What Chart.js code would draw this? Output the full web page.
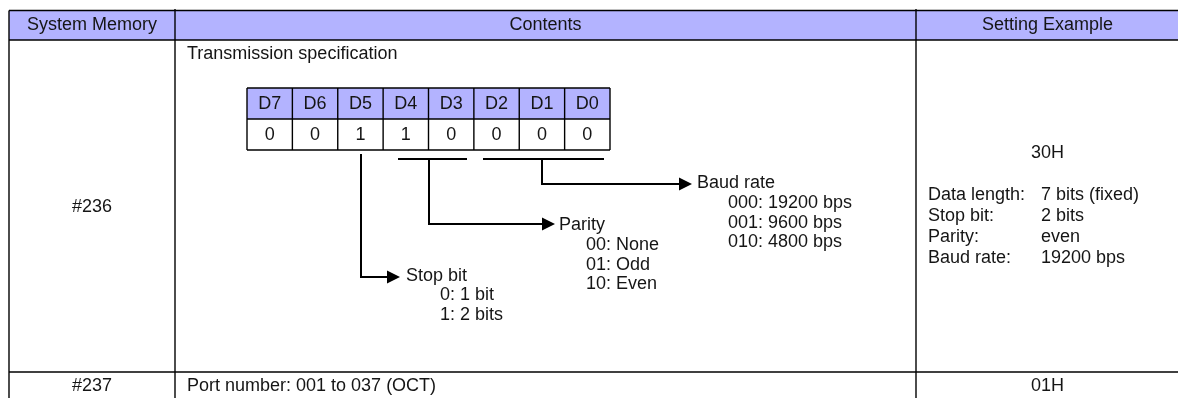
<!DOCTYPE html>
<html>
<head>
<meta charset="utf-8">
<script src="https://cdn.jsdelivr.net/npm/chart.js@4/dist/chart.umd.min.js"></script>
<style>
html,body{margin:0;padding:0;background:#fff;}
#wrap{width:1178px;height:398px;position:relative;}
</style>
</head>
<body>
<div id="wrap"><canvas id="c"></canvas></div>
<script>
// ---------- data ----------
const columnHeaders = ["System Memory", "Contents", "Setting Example"];
const memoryAddresses = ["#236", "#237"];
const specTitle = "Transmission specification";
const bitNames = ["D7", "D6", "D5", "D4", "D3", "D2", "D1", "D0"];
const bitValues = [0, 0, 1, 1, 0, 0, 0, 0];
const fieldNames = ["Stop bit", "Parity", "Baud rate"];
const stopBitOptions = ["0: 1 bit", "1: 2 bits"];
const parityOptions = ["00: None", "01: Odd", "10: Even"];
const baudOptions = ["000: 19200 bps", "001: 9600 bps", "010: 4800 bps"];
const exampleValues = ["30H", "01H"];
const exampleLabels = ["Data length:", "Stop bit:", "Parity:", "Baud rate:"];
const exampleSettings = ["7 bits (fixed)", "2 bits", "even", "19200 bps"];
const portDescription = "Port number: 001 to 037 (OCT)";

// ---------- layout (positions in scale units) ----------
const L = {
  tableLeft: 9, col1: 175, col2: 916, tableRight: 1178,
  top: 10.5, headerBottom: 40, rowDivider: 372, bottom: 398,
  headerY: 25,
  colCenters: [92, 545.5, 1047.5],
  specX: 187, specY: 54,
  bitLeft: 247, bitRight: 610, bitTop: 88, bitMid: 119, bitBottom: 150,
  underY: 159,
  underSegs: [[398, 467], [483, 604]],
  stop: {vx: 361, vTop: 154, hy: 277, tip: 400, textX: 406, textY: 276, optX: 440, optY: 295},
  parity: {vx: 429, vTop: 159, hy: 224, tip: 555, textX: 559, textY: 225, optX: 586, optY: 245},
  baud: {vx: 542, vTop: 159, hy: 184, tip: 692, textX: 697, textY: 183, optX: 728, optY: 203},
  optStep: 19.6,
  row1Y: 207,
  exVal1Y: 153,
  exLabelX: 928, exValueX: 1041, exY: 195, exStep: 21,
  row2Y: 386
};
const FONT = '18px "Liberation Sans", Arial, sans-serif';
const HEADER_FILL = '#b3b3ff';
const TEXT = '#151515';

const tablePlugin = {
  id: 'tablePlugin',
  afterDraw(chart) {
    const ctx = chart.ctx;
    const xs = chart.scales.x, ys = chart.scales.y;
    const X = v => xs.getPixelForValue(v);
    const Y = v => ys.getPixelForValue(v);
    ctx.save();
    // header background
    ctx.fillStyle = HEADER_FILL;
    ctx.fillRect(X(L.tableLeft), Y(L.top), X(L.tableRight) - X(L.tableLeft), Y(L.headerBottom) - Y(L.top));
    // bit table header fill
    ctx.fillRect(X(L.bitLeft), Y(L.bitTop), X(L.bitRight) - X(L.bitLeft), Y(L.bitMid) - Y(L.bitTop));

    // table lines
    ctx.strokeStyle = '#000';
    ctx.lineWidth = 1.4;
    const line = (x1, y1, x2, y2) => { ctx.beginPath(); ctx.moveTo(X(x1), Y(y1)); ctx.lineTo(X(x2), Y(y2)); ctx.stroke(); };
    line(L.tableLeft, L.top, L.tableRight, L.top);
    line(L.tableLeft, L.headerBottom, L.tableRight, L.headerBottom);
    line(L.tableLeft, L.rowDivider, L.tableRight, L.rowDivider);
    line(L.tableLeft, L.top, L.tableLeft, L.bottom);
    line(L.col1, L.top - 1.5, L.col1, L.bottom);
    line(L.col2, L.top - 1.5, L.col2, L.bottom);

    // bit table grid
    const n = bitNames.length;
    const cw = (L.bitRight - L.bitLeft) / n;
    line(L.bitLeft, L.bitTop, L.bitRight, L.bitTop);
    line(L.bitLeft, L.bitMid, L.bitRight, L.bitMid);
    line(L.bitLeft, L.bitBottom, L.bitRight, L.bitBottom);
    for (let i = 0; i <= n; i++) line(L.bitLeft + i * cw, L.bitTop, L.bitLeft + i * cw, L.bitBottom);

    // connectors
    ctx.lineWidth = 2;
    L.underSegs.forEach(s => line(s[0], L.underY, s[1], L.underY));
    const arrow = (c) => {
      ctx.beginPath();
      ctx.moveTo(X(c.vx), Y(c.vTop));
      ctx.lineTo(X(c.vx), Y(c.hy));
      ctx.lineTo(X(c.tip - 12), Y(c.hy));
      ctx.stroke();
      ctx.fillStyle = '#000';
      ctx.beginPath();
      ctx.moveTo(X(c.tip), Y(c.hy));
      ctx.lineTo(X(c.tip - 13), Y(c.hy - 6.5));
      ctx.lineTo(X(c.tip - 13), Y(c.hy + 6.5));
      ctx.closePath();
      ctx.fill();
    };
    arrow(L.stop); arrow(L.parity); arrow(L.baud);

    // texts
    ctx.font = FONT;
    ctx.fillStyle = TEXT;
    ctx.textBaseline = 'middle';
    const text = (t, x, y, align) => { ctx.textAlign = align || 'left'; ctx.fillText(t, X(x), Y(y)); };
    columnHeaders.forEach((h, i) => text(h, L.colCenters[i], L.headerY, 'center'));
    text(specTitle, L.specX, L.specY);
    bitNames.forEach((b, i) => text(b, L.bitLeft + (i + 0.5) * cw, (L.bitTop + L.bitMid) / 2 + 1, 'center'));
    bitValues.forEach((v, i) => text(String(v), L.bitLeft + (i + 0.5) * cw, (L.bitMid + L.bitBottom) / 2 + 1, 'center'));
    const fields = [[L.stop, stopBitOptions], [L.parity, parityOptions], [L.baud, baudOptions]];
    fields.forEach((f, i) => {
      const c = f[0];
      text(fieldNames[i], c.textX, c.textY);
      f[1].forEach((o, j) => text(o, c.optX, c.optY + j * L.optStep));
    });
    text(memoryAddresses[0], L.colCenters[0], L.row1Y, 'center');
    text(exampleValues[0], L.colCenters[2], L.exVal1Y, 'center');
    exampleLabels.forEach((lab, i) => {
      text(lab, L.exLabelX, L.exY + i * L.exStep);
      text(exampleSettings[i], L.exValueX, L.exY + i * L.exStep);
    });
    text(memoryAddresses[1], L.colCenters[0], L.row2Y, 'center');
    text(portDescription, L.specX, L.row2Y);
    text(exampleValues[1], L.colCenters[2], L.row2Y, 'center');
    ctx.restore();
  }
};

new Chart(document.getElementById('c'), {
  type: 'scatter',
  data: { datasets: [{ data: [], pointRadius: 0 }] },
  options: {
    responsive: true,
    maintainAspectRatio: false,
    animation: false,
    events: [],
    layout: { padding: 0 },
    plugins: { legend: { display: false }, tooltip: { enabled: false } },
    scales: {
      x: { type: 'linear', min: 0, max: 1178, display: false },
      y: { type: 'linear', min: 0, max: 398, reverse: true, display: false }
    }
  },
  plugins: [tablePlugin]
});
</script>
</body>
</html>
